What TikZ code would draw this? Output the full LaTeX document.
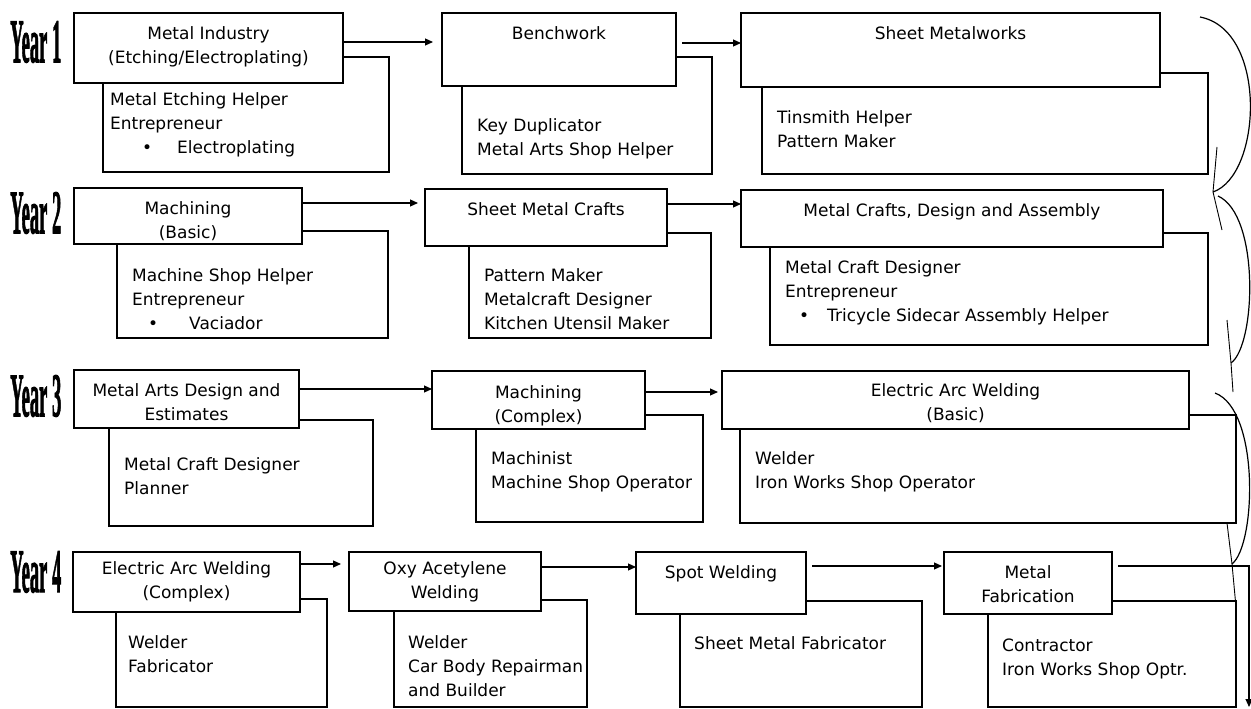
\documentclass[tikz,border=0pt]{standalone}
\usepackage{fontspec}
\setmainfont{DejaVu Sans}
\newfontfamily\yearfont[BoldFeatures={FakeBold=2}]{Liberation Serif}
\usetikzlibrary{arrows.meta}
\newcommand\rbox[6]{\node[#1, minimum width={#5-#3}, minimum height={#6-#4}] (#2) at (#3,#4) {};}
\newcommand\yr[1]{\scalebox{0.3}[1]{\yearfont\bfseries\fontsize{62}{62}\selectfont Year #1}}
\tikzset{
  cbox/.style={draw, line width=1.1pt, fill=white, inner sep=0pt, outer sep=0pt, anchor=north west},
  ttext/.style={font=\fontsize{17}{24}\selectfont, align=center, inner sep=0pt, anchor=north},
  btext/.style={font=\fontsize{17}{24}\selectfont, align=left, inner sep=0pt, anchor=north west},
  arr/.style={line width=1.1pt, -{Triangle[length=8pt,width=7pt]}},
  yrlab/.style={inner sep=0pt, anchor=west},
  curv/.style={line width=1.2pt},
  headl/.style={line width=0.9pt, line join=miter},
}
\begin{document}
\begin{tikzpicture}[x=1pt,y=-1pt]
\useasboundingbox (0,0) rectangle (1251,709);
\fill[white] (0,0) rectangle (1251,709);

% Year labels
\node[yrlab] (y1) at (10,42) {\yr{1}};
\node[yrlab] (y2) at (10,213) {\yr{2}};
\node[yrlab] (y3) at (10,396) {\yr{3}};
\node[yrlab] (y4) at (10,572) {\yr{4}};

% ---------- Row 1
\rbox{cbox}{B11}{103}{57}{389}{172}
\rbox{cbox}{T11}{74}{13}{343}{83}
\node[ttext] (t11) at (T11.north |- 0,26.3) {Metal Industry\\(Etching/Electroplating)};
\node[btext] (b11) at (110,92.3) {Metal Etching Helper\\Entrepreneur\\\hspace*{32pt}\makebox[35pt][l]{•}Electroplating};

\rbox{cbox}{B12}{462}{57}{712}{174}
\rbox{cbox}{T12}{442}{13}{676}{86}
\node[ttext] (t12) at (T12.north |- 0,26.8) {Benchwork};
\node[btext] (b12) at (477,118.3) {Key Duplicator\\Metal Arts Shop Helper};

\rbox{cbox}{B13}{762}{73}{1208}{174}
\rbox{cbox}{T13}{741}{13}{1160}{87}
\node[ttext] (t13) at (T13.north |- 0,26.8) {Sheet Metalworks};
\node[btext] (b13) at (777,110.3) {Tinsmith Helper\\Pattern Maker};

\draw[arr, shorten >=9pt] (T11.east |- 0,42) -- (T12.west |- 0,42);
\draw[arr, shorten <=6pt] (T12.east |- 0,43) -- (T13.west |- 0,43);

% ---------- Row 2
\rbox{cbox}{B21}{117}{231}{388}{338}
\rbox{cbox}{T21}{74}{188}{302}{244}
\node[ttext] (t21) at (T21.north |- 0,201.3) {Machining\\(Basic)};
\node[btext] (b21) at (132,268.3) {Machine Shop Helper\\Entrepreneur\\\hspace*{16pt}\makebox[41pt][l]{•}Vaciador};

\rbox{cbox}{B22}{469}{233}{711}{338}
\rbox{cbox}{T22}{425}{189}{667}{246}
\node[ttext] (t22) at (T22.north |- 0,202.3) {Sheet Metal Crafts};
\node[btext] (b22) at (484,268.3) {Pattern Maker\\Metalcraft Designer\\Kitchen Utensil Maker};

\rbox{cbox}{B23}{770}{233}{1208}{345}
\rbox{cbox}{T23}{741}{190}{1163}{247}
\node[ttext] (t23) at (T23.north |- 0,203.3) {Metal Crafts, Design and Assembly};
\node[btext] (b23) at (785,260.3) {Metal Craft Designer\\Entrepreneur\\\hspace*{14pt}\makebox[28pt][l]{•}Tricycle Sidecar Assembly Helper};

\draw[arr, shorten >=7pt] (T21.east |- 0,203) -- (T22.west |- 0,203);
\draw[arr] (T22.east |- 0,204) -- (T23.west |- 0,204);

% ---------- Row 3
\rbox{cbox}{B31}{109}{420}{373}{526}
\rbox{cbox}{T31}{74}{370}{299}{428}
\node[ttext] (t31) at (T31.north |- 0,383.3) {Metal Arts Design and\\Estimates};
\node[btext] (b31) at (124,457.3) {Metal Craft Designer\\Planner};

\rbox{cbox}{B32}{476}{415}{703}{522}
\rbox{cbox}{T32}{432}{371}{645}{429}
\node[ttext] (t32) at (T32.north |- 0,385.3) {Machining\\(Complex)};
\node[btext] (b32) at (491,451.3) {Machinist\\Machine Shop Operator};

\rbox{cbox}{B33}{740}{415}{1236}{523}
\rbox{cbox}{T33}{722}{371}{1189}{429}
\node[ttext] (t33) at (T33.north |- 0,383.3) {Electric Arc Welding\\(Basic)};
\node[btext] (b33) at (755,451.3) {Welder\\Iron Works Shop Operator};

\draw[arr] (T31.east |- 0,389) -- (T32.west |- 0,389);
\draw[arr, shorten >=4pt] (T32.east |- 0,392) -- (T33.west |- 0,392);

% ---------- Row 4
\rbox{cbox}{B41}{116}{599}{327}{707}
\rbox{cbox}{T41}{73}{552}{300}{612}
\node[ttext] (t41) at (T41.north |- 0,561.3) {Electric Arc Welding\\(Complex)};
\node[btext] (b41) at (128,635.3) {Welder\\Fabricator};

\rbox{cbox}{B42}{394}{600}{587}{707}
\rbox{cbox}{T42}{349}{552}{541}{611}
\node[ttext] (t42) at (T42.north |- 0,561.3) {Oxy Acetylene\\Welding};
\node[btext] (b42) at (408,635.3) {Welder\\Car Body Repairman\\and Builder};

\rbox{cbox}{B43}{680}{601}{922}{707}
\rbox{cbox}{T43}{636}{552}{806}{614}
\node[ttext] (t43) at (T43.north |- 0,565.3) {Spot Welding};
\node[btext] (b43) at (694,636.3) {Sheet Metal Fabricator};

\rbox{cbox}{B44}{988}{601}{1236}{707}
\rbox{cbox}{T44}{944}{552}{1112}{614}
\node[ttext] (t44) at (T44.north |- 0,565.3) {Metal\\Fabrication};
\node[btext] (b44) at (1002,638.3) {Contractor\\Iron Works Shop Optr.};

\draw[arr, shorten >=8pt] (T41.east |- 0,564) -- (T42.west |- 0,564);
\draw[arr] (T42.east |- 0,567) -- (T43.west |- 0,567);
\draw[arr, shorten <=6pt, shorten >=2pt] (T43.east |- 0,566) -- (T44.west |- 0,566);
\coordinate (endc) at (1249,707);
\draw[arr, shorten <=6pt] (T44.east |- 0,566) -| (endc);

% ---------- curved arrows between rows
\coordinate (c1s) at (1200,17);  \coordinate (c1e) at (1213,192);
\coordinate (c2s) at (1218,196); \coordinate (c2e) at (1231,363);
\coordinate (c3s) at (1215,393); \coordinate (c3e) at (1232,564);
\draw[curv] (c1s) .. controls (1268,30) and (1262,175) .. (c1e);
\draw[headl] (1217,147) -- (c1e) -- (1222,230);
\draw[curv] (c2s) .. controls (1260,215) and (1256,345) .. (c2e);
\draw[headl] (1227,320) -- (c2e) -- (1233,392);
\draw[curv] (c3s) .. controls (1260,410) and (1256,545) .. (c3e);
\draw[headl] (1227,523) -- (c3e) -- (1236,607);
\end{tikzpicture}
\end{document}
